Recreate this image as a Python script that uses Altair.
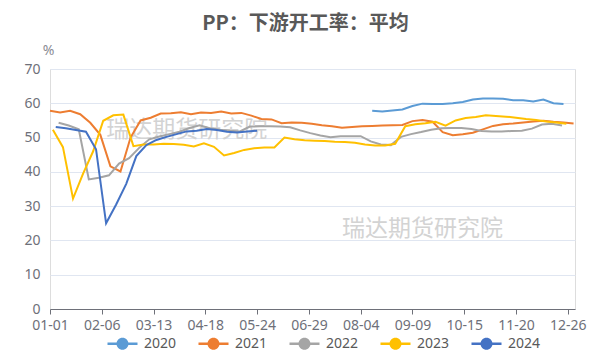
import altair as alt
import pandas as pd

# ---- data ----
YEARS = ["2020", "2021", "2022", "2023", "2024"]
COLORS = ["#5B9BD5", "#ED7D31", "#A5A5A5", "#FFC000", "#4472C4"]

# first weekly observation of each series (placed on a common leap-year calendar)
START = {
    "2020": "2020-08-12",
    "2021": "2020-01-01",
    "2022": "2020-01-07",
    "2023": "2020-01-03",
    "2024": "2020-01-05",
}

v2020 = [57.8, 57.6, 57.9, 58.2, 59.2, 59.9, 59.8, 59.8, 60.0, 60.4, 61.1, 61.4,
         61.4, 61.3, 60.9, 60.9, 60.5, 61.1, 60.0, 59.8]
v2021 = [57.8, 57.3, 57.8, 56.8, 54.3, 50.8, 41.6, 40.1, 50.0, 55.0,
         55.8, 57.0, 57.1, 57.4, 56.8, 57.3, 57.2, 57.6, 57.0, 57.2,
         56.4, 55.4, 55.3, 54.2, 54.4, 54.3, 54.0, 53.6, 53.3, 52.9,
         53.1, 53.3, 53.4, 53.5, 53.6, 53.7, 54.8, 55.1, 54.6, 51.6,
         50.7, 51.0, 51.4, 52.4, 53.4, 53.9, 54.1, 54.4, 54.7, 54.9,
         54.6, 54.4, 54.1]
v2022 = [54.3, 53.5, 52.4, 37.8, 38.3, 39.0, 42.4, 44.0, 47.0, 49.5,
         50.3, 51.0, 51.7, 52.8, 53.6, 52.7, 52.3, 52.0, 51.8, 53.2,
         53.3, 53.3, 53.2, 53.0, 52.1, 51.3, 50.6, 50.1, 50.4, 50.4,
         50.4, 48.9, 48.0, 47.8, 50.2, 51.0, 51.6, 52.3, 52.7, 52.8,
         52.8, 52.5, 51.9, 51.8, 51.8, 51.9, 52.0, 52.6, 53.8, 54.0,
         53.5]
v2023 = [52.3, 47.2, 32.2, 39.5, 46.0, 54.9, 56.5, 56.7, 47.5, 48.0,
         48.0, 48.2, 48.1, 47.9, 47.4, 48.3, 47.3, 44.8, 45.5, 46.4,
         46.9, 47.1, 47.1, 50.0, 49.5, 49.2, 49.1, 49.0, 48.8, 48.7,
         48.5, 48.0, 47.7, 47.7, 48.2, 53.3, 53.9, 54.2, 54.6, 53.5,
         55.0, 55.7, 56.0, 56.5, 56.3, 56.1, 55.8, 55.4, 55.1, 54.7,
         54.4, 54.0]
v2024 = [53.1, 52.7, 52.2, 51.7, 46.6, 25.0, 30.5, 36.5, 44.6, 47.8,
         49.3, 50.2, 51.0, 51.8, 52.0, 52.5, 52.2, 51.7, 51.5, 51.8, 52.0]

VALUES = {"2020": v2020, "2021": v2021, "2022": v2022, "2023": v2023, "2024": v2024}

TICK_DATES = ["01-01", "02-06", "03-13", "04-18", "05-24", "06-29",
              "08-04", "09-09", "10-15", "11-20", "12-26"]

TITLE = "PP：下游开工率：平均"
WATERMARK = "瑞达期货研究院"
WM_DATES = ["2020-04-05", "2020-09-16"]
WM_VALUES = [52.1, 23.4]

# ---- build tables ----
rows = []
for yr in YEARS:
    dates = pd.date_range(START[yr], periods=len(VALUES[yr]), freq="7D")
    for d, v in zip(dates, VALUES[yr]):
        rows.append({"date": d.strftime("%Y-%m-%d"), "value": v, "year": yr})
df = pd.DataFrame(rows)

wm = pd.DataFrame({"date": WM_DATES, "value": WM_VALUES, "text": [WATERMARK] * 2})


def dt(mmdd):
    m, d = mmdd.split("-")
    return alt.DateTime(year=2020, month=int(m), date=int(d), utc=True)


AXIS_GREY = "#6E7079"
FONT = "Noto Sans"

x_enc = alt.X(
    "date:T",
    scale=alt.Scale(type="utc", domain=[dt("01-01"), dt("12-31")], nice=False),
    axis=alt.Axis(
        values=[dt(t) for t in TICK_DATES],
        labelExpr="utcFormat(datum.value, '%m-%d')",
        grid=False,
        title=None,
        domainColor=AXIS_GREY,
        tickColor=AXIS_GREY,
        tickSize=5,
        labelPadding=4,
        labelFontSize=14,
        labelFont=FONT,
        labelColor=AXIS_GREY,
        labelOverlap=False,
        labelFlush=False,
    ),
)
y_enc = alt.Y(
    "value:Q",
    scale=alt.Scale(domain=[0, 70], nice=False),
    axis=alt.Axis(
        values=[0, 10, 20, 30, 40, 50, 60, 70],
        title="%",
        titleAngle=0,
        titleX=-2,
        titleY=-19,
        titleAlign="center",
        titleBaseline="middle",
        titleFontSize=14,
        titleFontWeight="normal",
        titleFont=FONT,
        titleColor="#8A8C94",
        domain=False,
        ticks=False,
        labelPadding=10,
        labelFontSize=14,
        labelFont=FONT,
        labelColor=AXIS_GREY,
        gridColor="#E0E6F1",
        gridWidth=1,
    ),
)

color_scale = alt.Scale(domain=YEARS, range=COLORS)

# line with a dot, drawn wider than the nominal symbol box to keep the entry short
LEGEND_SYMBOL = ("M-2,-0.16L2,-0.16L2,0.16L-2,0.16Z "
                 "M-0.8,0A0.8,0.8,0,1,1,0.8,0A0.8,0.8,0,1,1,-0.8,0Z")

watermark = alt.Chart(wm).mark_text(
    fontSize=23, font="Noto Sans CJK SC", color="#D3D3D3", align="center", baseline="middle"
).encode(x=x_enc, y=y_enc, text="text:N")

lines = alt.Chart(df).mark_line(strokeWidth=2).encode(
    x=x_enc,
    y=y_enc,
    color=alt.Color("year:N", scale=color_scale, legend=None),
)

legend_pts = alt.Chart(df).transform_filter("false").mark_point(
    filled=True, opacity=1
).encode(
    x=x_enc,
    y=y_enc,
    color=alt.Color(
        "year:N",
        scale=color_scale,
        legend=alt.Legend(
            title=None,
            orient="none",
            direction="horizontal",
            columns=5,
            legendX=65,
            legendY=267,
            symbolType=LEGEND_SYMBOL,
            symbolSize=225,
            symbolStrokeWidth=0,
            symbolOpacity=1,
            labelFontSize=14,
            labelFont=FONT,
            labelColor="#595959",
            labelOffset=14,
            columnPadding=21,
        ),
    ),
)

chart = alt.layer(watermark, lines, legend_pts).resolve_legend(
    color="independent"
).properties(
    width=525,
    height=240,
    padding={"left": 42, "top": 61, "right": 22, "bottom": 48},
    autosize=alt.AutoSizeParams(type="none"),
    title=alt.TitleParams(
        TITLE,
        fontSize=20,
        fontWeight="bold",
        font="Noto Sans CJK SC",
        color="#595959",
        anchor="middle",
        baseline="middle",
        offset=-1,
        dx=-7,
    ),
).configure_view(stroke=None).configure(background="white")

chart.save("out.html", embed_options={"renderer": "svg", "actions": False})
